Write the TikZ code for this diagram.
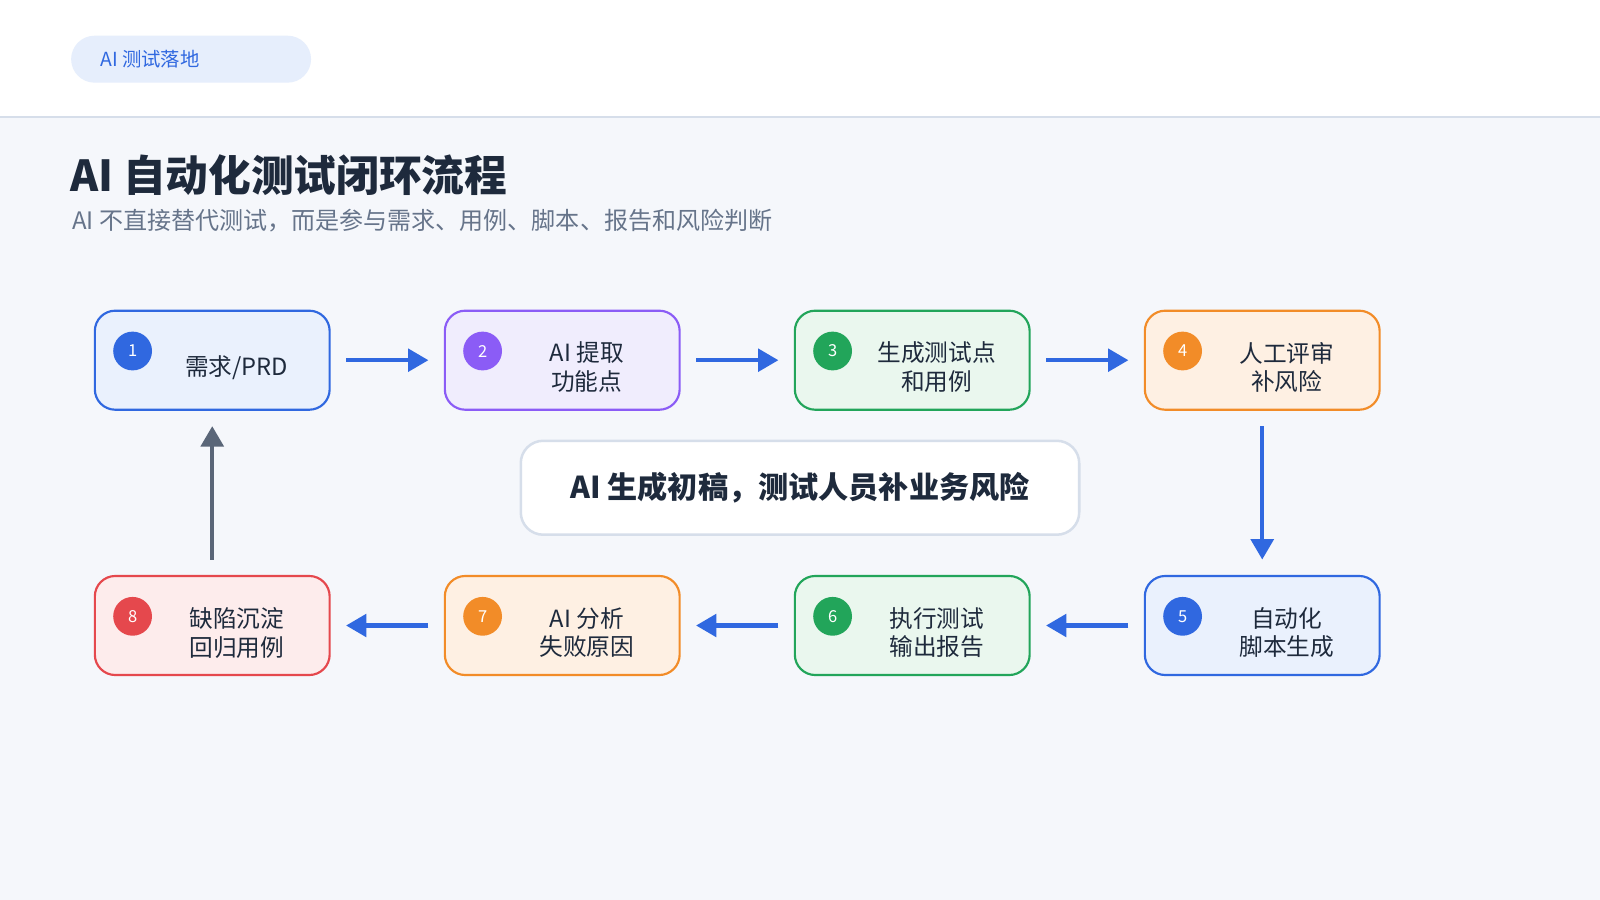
\documentclass[tikz,border=0pt]{standalone}
\usepackage{fontspec}
\setmainfont{Noto Sans CJK SC}
\usetikzlibrary{arrows.meta,positioning}
\definecolor{bgc}{HTML}{F5F7FB}
\definecolor{ink}{HTML}{1E2A3C}
\definecolor{subc}{HTML}{66748A}
\definecolor{linec}{HTML}{D6DEEA}
\definecolor{tagf}{HTML}{E6EEFC}
\definecolor{bluec}{HTML}{3068E0}
\definecolor{bluef}{HTML}{EAF1FD}
\definecolor{purc}{HTML}{8B5CF6}
\definecolor{purf}{HTML}{F0EDFD}
\definecolor{grnc}{HTML}{22A55A}
\definecolor{grnf}{HTML}{EAF7EE}
\definecolor{orgc}{HTML}{F28C28}
\definecolor{orgf}{HTML}{FEF0E3}
\definecolor{redc}{HTML}{E5484D}
\definecolor{redf}{HTML}{FDECEC}
\definecolor{grayc}{HTML}{5A6678}
\tikzset{
  stage/.style={rounded corners=0.2cm, line width=0.6pt, minimum width=2.3cm,
    minimum height=0.97cm},
  caption/.style={font=\fontsize{6.6}{8}\selectfont, text=ink, align=center,
    inner sep=0pt},
  num/.style={circle, inner sep=0pt, minimum size=0.38cm, text=white,
    font=\fontsize{4.6}{5}\selectfont},
  flow/.style={-{Triangle[length=0.2cm,width=0.22cm]}, line width=1.2pt, bluec,
    shorten >=0.15cm, shorten <=0.15cm},
  back/.style={flow, grayc}
}
\begin{document}
\begin{tikzpicture}[x=0.01cm,y=-0.01cm]
  \useasboundingbox (0,0) rectangle (1568,882);
  \fill[bgc] (0,0) rectangle (1568,882);
  \fill[white] (0,0) rectangle (1568,114);
  \draw[linec, line width=0.6pt] (0,114.5) -- (1568,114.5);
  % header tag and titles
  \node[fill=tagf, rounded corners=0.23cm, minimum width=2.35cm,
    minimum height=0.46cm, anchor=west] (tag) at (69,58) {};
  \node[anchor=west, text=bluec, font=\fontsize{5.4}{6}\selectfont] (tagtext) at (86,58) {AI 测试落地};
  \node[anchor=west, text=ink, font=\fontsize{11.9}{13}\selectfont\bfseries, inner sep=0pt] (title) at (68,172) {AI 自动化测试闭环流程};
  \node[anchor=west, text=subc, font=\fontsize{6.7}{7}\selectfont, inner sep=0pt] (sub) at (70,216) {AI 不直接替代测试，而是参与需求、用例、脚本、报告和风险判断};
  % stages
  \node[stage, draw=bluec, fill=bluef] (s1) at (208,353) {};
  \node[stage, draw=purc, fill=purf] (s2) at (551,353) {};
  \node[stage, draw=grnc, fill=grnf] (s3) at (894,353) {};
  \node[stage, draw=orgc, fill=orgf] (s4) at (1237,353) {};
  \node[stage, draw=bluec, fill=bluef] (s5) at (1237,613) {};
  \node[stage, draw=grnc, fill=grnf] (s6) at (894,613) {};
  \node[stage, draw=orgc, fill=orgf] (s7) at (551,613) {};
  \node[stage, draw=redc, fill=redf] (s8) at (208,613) {};
  \foreach \i/\c/\t in {1/bluec/{需求/PRD}, 2/purc/AI 提取\\功能点, 3/grnc/生成测试点\\和用例,
      4/orgc/人工评审\\补风险, 5/bluec/自动化\\脚本生成, 6/grnc/执行测试\\输出报告,
      7/orgc/AI 分析\\失败原因, 8/redc/缺陷沉淀\\回归用例} {
    \node[num, fill=\c] (n\i) at ([xshift=-0.78cm,yshift=0.09cm]s\i) {\i};
    \node[caption] (t\i) at ([xshift=0.24cm,yshift=-0.07cm]s\i) {\t};
  }
  % center note
  \node[draw=linec, fill=white, rounded corners=0.22cm, line width=0.7pt,
    minimum width=5.47cm, minimum height=0.92cm, text=ink,
    font=\fontsize{8.4}{9}\selectfont\bfseries] (note) at (784,478) {AI 生成初稿，测试人员补业务风险};
  % connectors
  \draw[flow] (s1) -- (s2);
  \draw[flow] (s2) -- (s3);
  \draw[flow] (s3) -- (s4);
  \draw[flow] (s4) -- (s5);
  \draw[flow] (s5) -- (s6);
  \draw[flow] (s6) -- (s7);
  \draw[flow] (s7) -- (s8);
  \draw[back] (s8) -- (s1);
\end{tikzpicture}
\end{document}
